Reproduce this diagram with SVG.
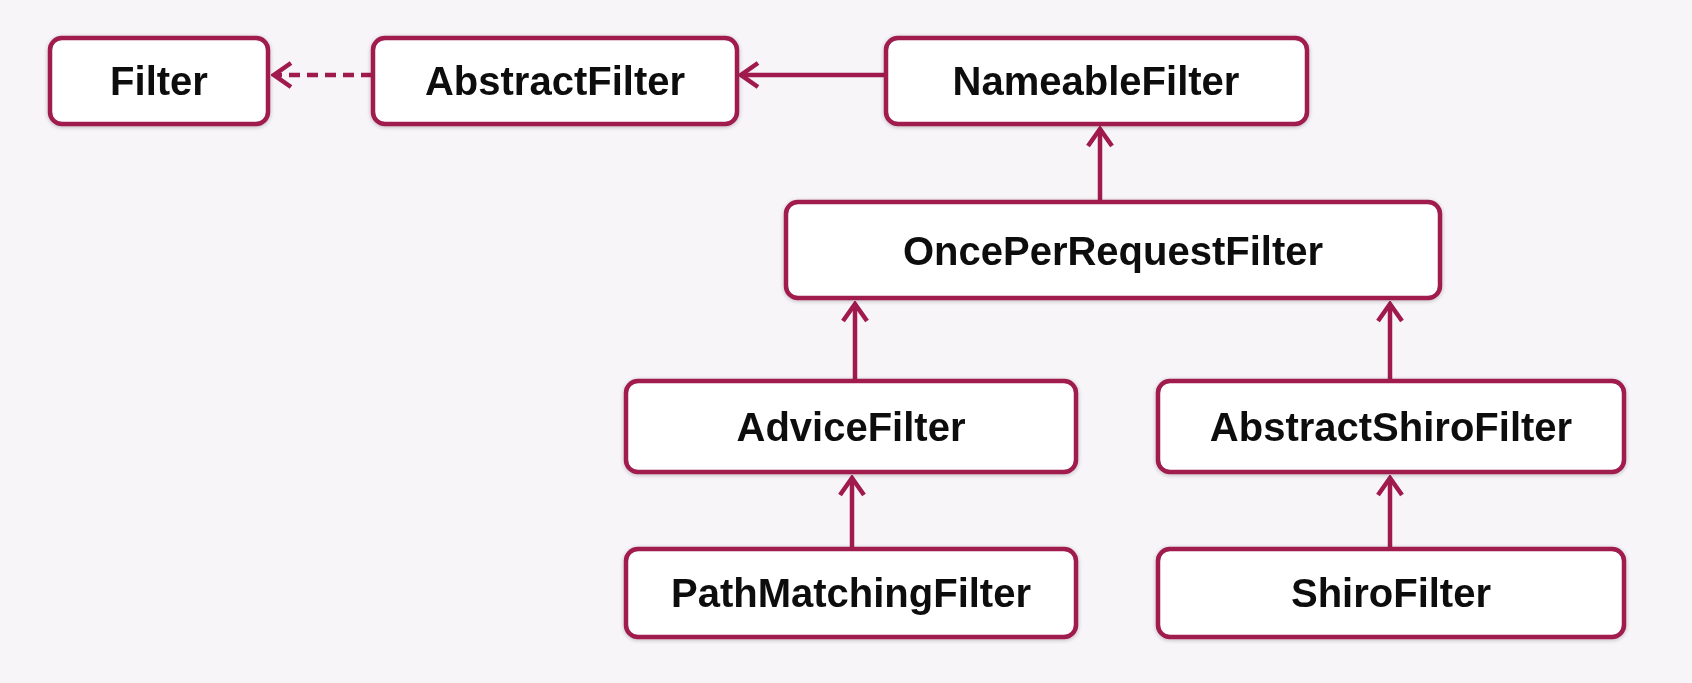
<svg xmlns="http://www.w3.org/2000/svg" width="1692" height="683" viewBox="0 0 1692 683">
<defs>
<style>
.box{fill:#ffffff;stroke:#a01a4e;stroke-width:4.5}
.lbl{font-family:"Liberation Sans",Arial,sans-serif;font-weight:bold;font-size:40px;fill:#111;text-anchor:middle}
.edge{stroke:#a01a4e;stroke-width:4.5;fill:none}
.dash{stroke-dasharray:11 7}
</style>
<marker id="open" viewBox="0 0 24 30" refX="21" refY="15" markerWidth="24" markerHeight="30" markerUnits="userSpaceOnUse" orient="auto">
<path d="M4 3 L21 15 L4 27" fill="none" stroke="#a01a4e" stroke-width="4.5" stroke-linejoin="miter"/>
</marker>
<filter id="sh" x="-5%" y="-10%" width="110%" height="120%">
<feGaussianBlur in="SourceAlpha" stdDeviation="2"/>
<feOffset dy="1"/>
<feComponentTransfer><feFuncA type="linear" slope="0.25"/></feComponentTransfer>
<feMerge><feMergeNode/><feMergeNode in="SourceGraphic"/></feMerge>
</filter>
</defs>
<rect width="1692" height="683" fill="#f7f5f7"/>
<g id="connectors">
<line class="edge dash" x1="372" y1="75" x2="274" y2="75" marker-end="url(#open)"/>
<line class="edge" x1="885" y1="75" x2="741" y2="75" marker-end="url(#open)"/>
<line class="edge" x1="1100" y1="202" x2="1100" y2="129" marker-end="url(#open)"/>
<line class="edge" x1="855" y1="380" x2="855" y2="304" marker-end="url(#open)"/>
<line class="edge" x1="1390" y1="380" x2="1390" y2="304" marker-end="url(#open)"/>
<line class="edge" x1="852" y1="548" x2="852" y2="478" marker-end="url(#open)"/>
<line class="edge" x1="1390" y1="548" x2="1390" y2="478" marker-end="url(#open)"/>
</g>
<g id="filter" filter="url(#sh)"><rect class="box" x="50" y="38" width="218" height="86" rx="12"/><text class="lbl" x="159" y="95">Filter</text></g>
<g id="abstractfilter" filter="url(#sh)"><rect class="box" x="373" y="38" width="364" height="86" rx="12"/><text class="lbl" x="555" y="95">AbstractFilter</text></g>
<g id="nameablefilter" filter="url(#sh)"><rect class="box" x="886" y="38" width="421" height="86" rx="12"/><text class="lbl" x="1096" y="95">NameableFilter</text></g>
<g id="onceperrequestfilter" filter="url(#sh)"><rect class="box" x="786" y="202" width="654" height="96" rx="12"/><text class="lbl" x="1113" y="265">OncePerRequestFilter</text></g>
<g id="advicefilter" filter="url(#sh)"><rect class="box" x="626" y="381" width="450" height="91" rx="12"/><text class="lbl" x="851" y="441">AdviceFilter</text></g>
<g id="abstractshirofilter" filter="url(#sh)"><rect class="box" x="1158" y="381" width="466" height="91" rx="12"/><text class="lbl" x="1391" y="441">AbstractShiroFilter</text></g>
<g id="pathmatchingfilter" filter="url(#sh)"><rect class="box" x="626" y="549" width="450" height="88" rx="12"/><text class="lbl" x="851" y="607">PathMatchingFilter</text></g>
<g id="shirofilter" filter="url(#sh)"><rect class="box" x="1158" y="549" width="466" height="88" rx="12"/><text class="lbl" x="1391" y="607">ShiroFilter</text></g>
</svg>
